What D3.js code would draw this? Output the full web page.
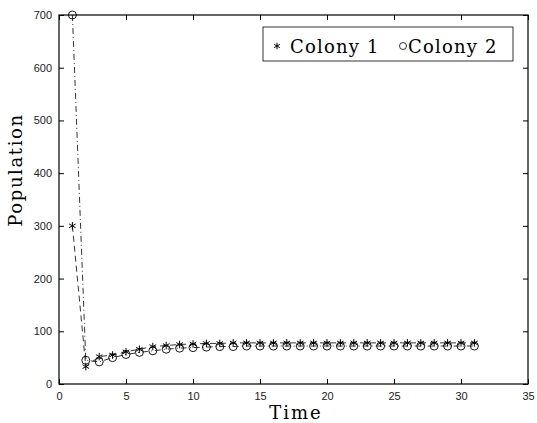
<!DOCTYPE html>
<html>
<head>
<meta charset="utf-8">
<script src="https://cdn.jsdelivr.net/npm/d3@7"></script>
<style>
  body { margin: 0; background: #fff; }
  svg { display: block; }
</style>
</head>
<body>
<div id="chart"></div>
<script>
var time = [1, 2, 3, 4, 5, 6, 7, 8, 9, 10, 11, 12, 13, 14, 15, 16, 17, 18, 19, 20,
            21, 22, 23, 24, 25, 26, 27, 28, 29, 30, 31];
var colony1 = [300, 33, 52, 55, 61, 66, 71, 73, 75, 76, 77, 77, 78, 78, 78, 78, 78, 78, 78, 78,
               78, 78, 78, 78, 78, 78, 78, 78, 78, 78, 78];
var colony2 = [700, 45, 42, 50, 56, 60, 63, 66, 68, 69, 70, 71, 71, 72, 72, 72, 72, 72, 72, 72,
               72, 72, 72, 72, 72, 72, 72, 72, 72, 72, 72];
var xTicks = [0, 5, 10, 15, 20, 25, 30, 35];
var yTicks = [0, 100, 200, 300, 400, 500, 600, 700];
var seriesNames = ["Colony 1", "Colony 2"];

var width = 537, height = 423;
var margin = {left: 59, right: 9, top: 15, bottom: 39};

var svg = d3.select("#chart").append("svg")
  .attr("width", width)
  .attr("height", height);

var scX = d3.scaleLinear()
  .domain([0, 35])
  .range([margin.left, width - margin.right]);
var scY = d3.scaleLinear()
  .domain([0, 700])
  .range([height - margin.bottom, margin.top]);

var tickFont = "'Liberation Sans', Arial, sans-serif";
var serif = "'DejaVu Serif', 'Liberation Serif', serif";

// axes, ticks pointing inward
function styleAxis(g) {
  g.select(".domain").remove();
  g.selectAll("line").attr("stroke", "#000");
  g.selectAll("text").attr("font-family", tickFont).attr("font-size", 11).attr("fill", "#222");
}
svg.append("g")
  .attr("transform", `translate(0, ${scY(0)})`)
  .call(d3.axisBottom(scX).tickValues(xTicks).tickSizeInner(-5).tickPadding(8))
  .call(styleAxis);
svg.append("g")
  .attr("transform", `translate(0, ${scY(700)})`)
  .call(d3.axisTop(scX).tickValues(xTicks).tickSizeInner(-5).tickFormat(""))
  .call(styleAxis);
svg.append("g")
  .attr("transform", `translate(${scX(0)}, 0)`)
  .call(d3.axisLeft(scY).tickValues(yTicks).tickSizeInner(-5).tickPadding(7))
  .call(styleAxis);
svg.append("g")
  .attr("transform", `translate(${scX(35)}, 0)`)
  .call(d3.axisRight(scY).tickValues(yTicks).tickSizeInner(-5).tickFormat(""))
  .call(styleAxis);

svg.append("rect")
  .attr("x", scX(0))
  .attr("y", scY(700))
  .attr("width", scX(35) - scX(0))
  .attr("height", scY(0) - scY(700))
  .attr("fill", "none")
  .attr("stroke", "#000")
  .attr("stroke-width", 1.2);

// lines
var line = d3.line().x(d => scX(d[0])).y(d => scY(d[1]));
var d1 = time.map((t, i) => [t, colony1[i]]);
var d2 = time.map((t, i) => [t, colony2[i]]);

svg.append("path")
  .attr("d", line(d1))
  .attr("fill", "none")
  .attr("stroke", "#000")
  .attr("stroke-width", 0.8)
  .attr("stroke-dasharray", "6,4");
svg.append("path")
  .attr("d", line(d2))
  .attr("fill", "none")
  .attr("stroke", "#000")
  .attr("stroke-width", 0.8)
  .attr("stroke-dasharray", "6,3,1,3");

// markers
var star = d3.symbol().type(d3.symbolAsterisk).size(40);
svg.append("g")
  .selectAll("path")
  .data(d1)
  .enter()
  .append("path")
  .attr("d", star)
  .attr("transform", d => `translate(${scX(d[0])}, ${scY(d[1])})`)
  .attr("fill", "none")
  .attr("stroke", "#000")
  .attr("stroke-width", 1);
svg.append("g")
  .selectAll("circle")
  .data(d2)
  .enter()
  .append("circle")
  .attr("cx", d => scX(d[0]))
  .attr("cy", d => scY(d[1]))
  .attr("r", 4)
  .attr("fill", "none")
  .attr("stroke", "#000")
  .attr("stroke-width", 0.9);

// axis labels
svg.append("text")
  .attr("x", 296)
  .attr("y", 419)
  .attr("text-anchor", "middle")
  .attr("font-family", serif)
  .attr("font-size", 18)
  .attr("letter-spacing", 2)
  .text("Time");
svg.append("text")
  .attr("transform", "translate(22, 170) rotate(-90)")
  .attr("text-anchor", "middle")
  .attr("font-family", serif)
  .attr("font-size", 18)
  .attr("letter-spacing", 1.6)
  .text("Population");

// legend
var lg = svg.append("g");
lg.append("rect")
  .attr("x", 263)
  .attr("y", 27)
  .attr("width", 250)
  .attr("height", 34)
  .attr("fill", "#fff")
  .attr("stroke", "#000")
  .attr("stroke-width", 0.8);
lg.append("path")
  .attr("d", d3.symbol().type(d3.symbolAsterisk).size(30))
  .attr("transform", "translate(277, 46)")
  .attr("fill", "none")
  .attr("stroke", "#000");
lg.append("text")
  .attr("x", 290)
  .attr("y", 53)
  .attr("font-family", serif)
  .attr("font-size", 18)
  .attr("letter-spacing", 1.2)
  .text(seriesNames[0]);
lg.append("circle")
  .attr("cx", 403)
  .attr("cy", 46)
  .attr("r", 3.5)
  .attr("fill", "none")
  .attr("stroke", "#000")
  .attr("stroke-width", 0.8);
lg.append("text")
  .attr("x", 408)
  .attr("y", 53)
  .attr("font-family", serif)
  .attr("font-size", 18)
  .attr("letter-spacing", 1.2)
  .text(seriesNames[1]);
</script>
</body>
</html>
